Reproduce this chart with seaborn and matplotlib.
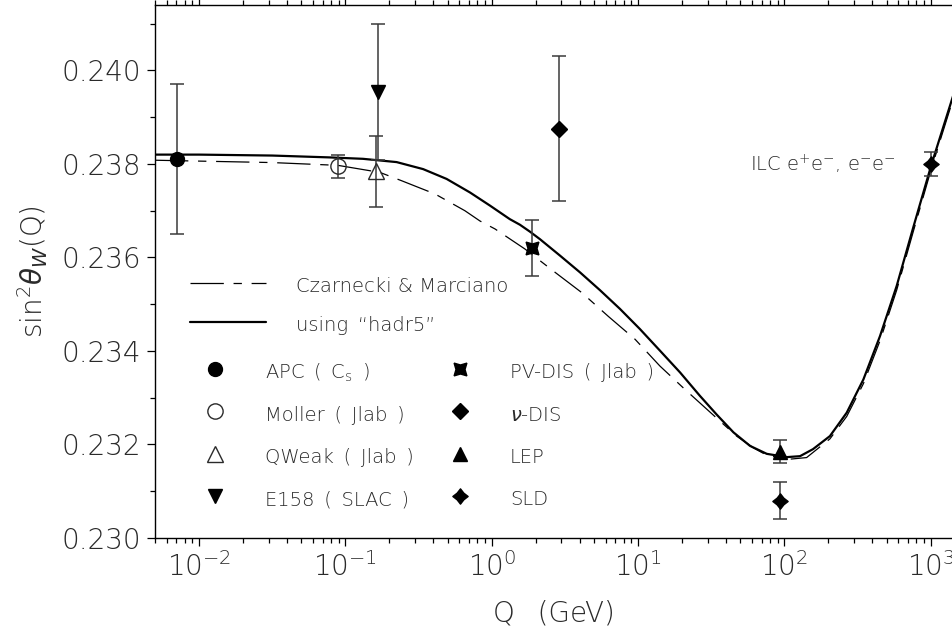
import numpy as np
import pandas as pd
import matplotlib
matplotlib.use('Agg')
import matplotlib.pyplot as plt
from matplotlib.lines import Line2D
from matplotlib.path import Path
from matplotlib.ticker import FixedLocator, FormatStrFormatter, LogLocator, NullFormatter
import seaborn as sns

# running sin^2 theta_W curves
q_hadr5 = [0.005, 0.01, 0.0316, 0.0785, 0.132, 0.224, 0.340, 0.492, 0.711, 0.973,
           1.33, 1.56, 1.83, 2.14, 2.93, 4.02, 5.50, 7.53, 10.3, 14.1,
           19.4, 26.5, 34.5, 44.9, 58.3, 75.9, 104, 128, 157, 205,
           267, 347, 451, 586, 762, 1016, 1422]
s2w_hadr5 = [0.23820, 0.23820, 0.23818, 0.23814, 0.23811, 0.23804, 0.23789, 0.23768, 0.23739, 0.23711,
             0.23682, 0.23670, 0.23655, 0.23639, 0.23604, 0.23568, 0.23530, 0.23490, 0.23447, 0.23401,
             0.23354, 0.23304, 0.23264, 0.23226, 0.23197, 0.23180, 0.23173, 0.23175, 0.23190, 0.23218,
             0.23268, 0.23339, 0.23432, 0.23539, 0.23665, 0.23800, 0.23945]

q_cm = [0.005, 0.0316, 0.0891, 0.172, 0.243, 0.315, 0.409, 0.656, 0.832, 1.054,
        1.69, 2.64, 4.12, 6.27, 9.55, 14.1, 20.9, 31.9, 47.2, 61.4,
        75.9, 104, 142, 205, 267, 347, 451, 586, 762, 1016, 1422]
s2w_cm = [0.23808, 0.23803, 0.23797, 0.23782, 0.23764, 0.23750, 0.23736, 0.23700, 0.23678, 0.23661,
          0.23618, 0.23571, 0.23525, 0.23474, 0.23425, 0.23368, 0.23318, 0.23266, 0.23218, 0.23193,
          0.23177, 0.23168, 0.23172, 0.23212, 0.23260, 0.23330, 0.23422, 0.23530, 0.23656, 0.23792,
          0.23938]

# measurements
sp = '\u2002'
exp_names = [f'APC{sp}({sp}C$_\\mathrm{{s}}${sp})', f'Moller{sp}({sp}Jlab{sp})',
             f'QWeak{sp}({sp}Jlab{sp})', f'E158{sp}({sp}SLAC{sp})',
             f'PV-DIS{sp}({sp}Jlab{sp})', r'$\nu$-DIS', 'LEP', 'SLD', 'ILC']
exp_q = [0.00703, 0.089, 0.163, 0.167, 1.88, 2.87, 93.0, 93.0, 1000.0]
exp_s2w = [0.23811, 0.23795, 0.23784, 0.23954, 0.23621, 0.23875, 0.23185, 0.23080, 0.23800]
exp_err = [0.00160, 0.00025, 0.00075, 0.00145, 0.00060, 0.00155, 0.00024, 0.00040, 0.00025]

y_ticks = [0.230, 0.232, 0.234, 0.236, 0.238, 0.240]
y_minor = [0.231, 0.233, 0.235, 0.237, 0.239, 0.241]

sns.set_theme(style='ticks')
plt.rcParams['font.family'] = ['DejaVu Sans']
plt.rcParams['font.weight'] = 'light'
plt.rcParams['axes.labelweight'] = 'light'
plt.rcParams['mathtext.fontset'] = 'custom'
plt.rcParams['mathtext.rm'] = 'DejaVu Sans:light'
plt.rcParams['mathtext.it'] = 'DejaVu Sans:italic:light'
plt.rcParams['mathtext.bf'] = 'DejaVu Sans:bold'
plt.rcParams['lines.scale_dashes'] = False

ink = '#2a2a2a'
star4 = Path.unit_regular_star(4, 0.62)
styles = [
    dict(marker='o', ms=10, mfc='black', mec='black'),
    dict(marker='o', ms=11, mfc='none', mec=ink, mew=1.0),
    dict(marker='^', ms=11, mfc='none', mec=ink, mew=1.0),
    dict(marker='v', ms=10, mfc='black', mec='black'),
    dict(marker=(4, 1, 45), ms=13, mfc='black', mec='black'),
    dict(marker='D', ms=8, mfc='black', mec='black'),
    dict(marker='^', ms=10, mfc='black', mec='black'),
    dict(marker=star4, ms=11, mfc='black', mec='black'),
    dict(marker=star4, ms=11, mfc='black', mec='black'),
]

fig = plt.figure(figsize=(9.53, 6.28), dpi=100)
ax = fig.add_axes([155 / 953, 90 / 628, 798 / 953, 533 / 628])

df_h = pd.DataFrame({'Q': q_hadr5, 's2w': s2w_hadr5})
df_c = pd.DataFrame({'Q': q_cm, 's2w': s2w_cm})
sns.lineplot(data=df_c, x='Q', y='s2w', ax=ax, color='black', lw=0.9,
             sort=False, estimator=None, zorder=2)
dash_line = ax.lines[-1]
dash_line.set_dashes((24, 7, 6, 7))
sns.lineplot(data=df_h, x='Q', y='s2w', ax=ax, color='black', lw=1.6,
             sort=False, estimator=None, zorder=3)
solid_line = ax.lines[-1]

for i in range(len(exp_q)):
    ax.errorbar(exp_q[i], exp_s2w[i], yerr=exp_err[i], fmt='none', ecolor='#3a3a3a',
                elinewidth=1.1, capsize=5, capthick=1.1, zorder=4)
    ax.plot(exp_q[i], exp_s2w[i], ls='none', zorder=5, **styles[i])

ax.annotate('ILC e$^{+}$e$^{-}$, e$^{-}$e$^{-}$', xy=(exp_q[8], exp_s2w[8]),
            xytext=(-25, 0), textcoords='offset points', ha='right', va='center',
            fontsize=14, color=ink)

ax.set_xscale('log')
ax.set_xlim(0.005, 1422)
ax.set_ylim(0.230, 0.2414)
ax.yaxis.set_major_locator(FixedLocator(y_ticks))
ax.yaxis.set_major_formatter(FormatStrFormatter('%.3f'))
ax.yaxis.set_minor_locator(FixedLocator(y_minor))
ax.xaxis.set_major_locator(LogLocator(base=10, numticks=12))
ax.xaxis.set_minor_locator(LogLocator(base=10, subs=np.arange(2, 10), numticks=12))
ax.xaxis.set_minor_formatter(NullFormatter())

ax.tick_params(axis='both', which='major', direction='out', length=6, width=0.9,
               labelsize=20, colors='black', labelcolor=ink)
ax.tick_params(axis='both', which='minor', direction='out', length=3.5, width=0.9, colors='black')
ax.tick_params(axis='x', which='both', top=True, pad=4)
ax.tick_params(axis='y', which='major', pad=4)

for side in ['left', 'bottom', 'top']:
    ax.spines[side].set_visible(True)
    ax.spines[side].set_linewidth(1.0)
    ax.spines[side].set_color('black')
ax.spines['right'].set_visible(False)

ax.set_xlabel(f'Q{sp} (GeV)', fontsize=20, color=ink, labelpad=13)
ax.set_ylabel(r'sin$^{2}\theta_{W}$(Q)', fontsize=20, color=ink, labelpad=8)

# legend: curves
leg1 = ax.legend([dash_line, solid_line], ['Czarnecki & Marciano', f'using{sp}\u201chadr5\u201d'],
                 loc='upper left', bbox_to_anchor=(0.0439, 0.4962), frameon=False,
                 fontsize=14, handlelength=3.9, handletextpad=1.55, handleheight=1.6,
                 labelspacing=0.72, borderpad=0, borderaxespad=0, labelcolor=ink)
ax.add_artist(leg1)

# legend: measurements, two columns
proxies = [Line2D([], [], ls='none', **s) for s in styles[:8]]
leg2 = ax.legend(proxies[:4], exp_names[:4], loc='upper left', bbox_to_anchor=(0.0508, 0.3349),
                 frameon=False, fontsize=14, handlelength=2.0, handletextpad=1.57,
                 handleheight=1.6, labelspacing=0.89, borderpad=0, borderaxespad=0,
                 labelcolor=ink)
ax.add_artist(leg2)
leg3 = ax.legend(proxies[4:8], exp_names[4:8], loc='upper left', bbox_to_anchor=(0.3578, 0.3349),
                 frameon=False, fontsize=14, handlelength=2.0, handletextpad=1.57,
                 handleheight=1.6, labelspacing=0.89, borderpad=0, borderaxespad=0,
                 labelcolor=ink)

fig.savefig('out.png', dpi=100)
